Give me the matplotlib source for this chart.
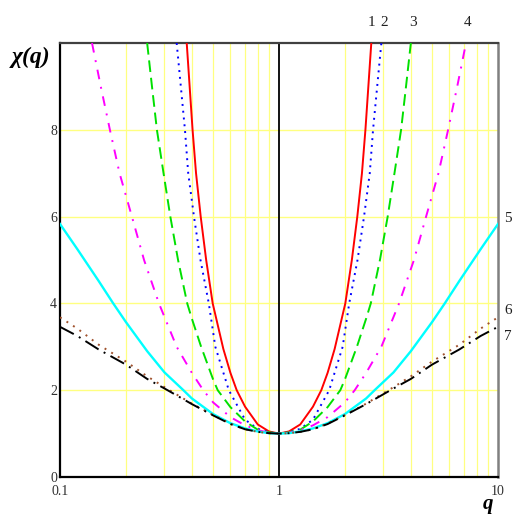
import matplotlib
matplotlib.use("Agg")
import matplotlib.pyplot as plt
from matplotlib.ticker import NullFormatter, FixedLocator

# ---- data (q, chi) ----
q1 = [0.379, 0.403, 0.418, 0.439, 0.465, 0.498, 0.557, 0.6, 0.641, 0.7, 0.8, 0.9, 1.0,
      1.111, 1.25, 1.429, 1.56, 1.667, 1.795, 2.008, 2.151, 2.278, 2.392, 2.481, 2.639]
y1 = [10, 8, 7, 6, 5, 4, 2.95, 2.4, 2, 1.62, 1.21, 1.05, 1.0,
      1.05, 1.21, 1.62, 2, 2.4, 2.95, 4, 5, 6, 7, 8, 10]

q2 = [0.341, 0.372, 0.385, 0.409, 0.438, 0.478, 0.512, 0.59, 0.7, 0.8, 0.9, 1.0,
      1.111, 1.25, 1.429, 1.695, 1.953, 2.092, 2.283, 2.445, 2.597, 2.688, 2.933]
y2 = [10, 8, 7, 6, 5, 4, 3, 2, 1.32, 1.11, 1.03, 1.0,
      1.03, 1.11, 1.32, 2, 3, 4, 5, 6, 7, 8, 10]

q3 = [0.25, 0.263, 0.277, 0.297, 0.319, 0.346, 0.381, 0.4, 0.441, 0.5, 0.525, 0.6, 0.7, 0.8, 0.9, 1.0,
      1.111, 1.25, 1.429, 1.667, 1.905, 2.0, 2.268, 2.5, 2.625, 2.89, 3.135, 3.367, 3.61, 3.802, 4.0]
y3 = [10, 9, 8, 7, 6, 5, 4, 3.65, 3, 2.25, 2, 1.61, 1.28, 1.09, 1.03, 1.0,
      1.03, 1.09, 1.28, 1.61, 2, 2.25, 3, 3.65, 4, 5, 6, 7, 8, 9, 10]

q4 = [0.14, 0.1535, 0.169, 0.187, 0.213, 0.242, 0.283, 0.341, 0.4, 0.451, 0.5, 0.6, 0.7, 0.8, 0.9, 1.0,
      1.111, 1.25, 1.429, 1.667, 2.0, 2.217, 2.5, 2.933, 3.534, 4.132, 4.695, 5.348, 5.917, 6.515, 7.143]
y4 = [10, 9, 8, 7, 6, 5, 4, 3, 2.4, 2, 1.72, 1.38, 1.19, 1.08, 1.02, 1.0,
      1.02, 1.08, 1.19, 1.38, 1.72, 2, 2.4, 3, 4, 5, 6, 7, 8, 9, 10]

q5 = [0.1, 0.12, 0.15, 0.175, 0.2, 0.25, 0.3, 0.366, 0.4, 0.5, 0.6, 0.7, 0.8, 0.9, 1.0,
      1.111, 1.25, 1.429, 1.667, 2.0, 2.5, 2.732, 3.333, 4.0, 5.0, 5.714, 6.667, 8.333, 10.0]
y5 = [5.83, 5.25, 4.52, 4.0, 3.57, 2.9, 2.41, 2.0, 1.81, 1.45, 1.24, 1.12, 1.05, 1.01, 1.0,
      1.01, 1.05, 1.12, 1.24, 1.45, 1.81, 2.0, 2.41, 2.9, 3.57, 4.0, 4.52, 5.25, 5.83]

q67 = [0.1, 0.12, 0.15, 0.2, 0.25, 0.3, 0.4, 0.5, 0.6, 0.7, 0.8, 0.9, 1.0,
       1.111, 1.25, 1.429, 1.667, 2.0, 2.5, 3.333, 4.0, 5.0, 6.667, 8.333, 10.0]
y6 = [3.68, 3.42, 3.05, 2.66, 2.32, 2.07, 1.69, 1.43, 1.23, 1.10, 1.04, 1.01, 1.0,
      1.01, 1.04, 1.10, 1.23, 1.43, 1.69, 2.07, 2.32, 2.66, 3.05, 3.42, 3.68]
y7 = [3.46, 3.25, 2.94, 2.59, 2.26, 2.04, 1.68, 1.42, 1.22, 1.10, 1.04, 1.01, 1.0,
      1.01, 1.04, 1.10, 1.22, 1.42, 1.68, 2.04, 2.26, 2.59, 2.94, 3.25, 3.46]

y_ticks = [0, 2, 4, 6, 8]
x_ticks = [0.1, 1, 10]
x_ticklabels = ["0.1", "1", "10"]
curve_labels = ["1", "2", "3", "4", "5", "6", "7"]

W, H = 513, 515
fig = plt.figure(figsize=(W / 100, H / 100), dpi=100)
ax = fig.add_axes([60 / W, 1 - 477 / H, 438 / W, 434 / H])
ax.set_xscale("log")
ax.set_xlim(0.1, 10)
ax.set_ylim(0, 10)

# grid
grid_c = "#ffff80"
minor = [m * d for d in (0.1, 1) for m in range(2, 10)]
for xv in minor:
    ax.axvline(xv, color=grid_c, lw=0.9, zorder=0)
for yv in y_ticks[1:]:
    ax.axhline(yv, color=grid_c, lw=1.0, zorder=0)
ax.axvline(1, color="black", lw=1.3, zorder=1)

lw = 1.4
ax.plot(q1, y1, color="#ff0000", lw=lw, ls="-", zorder=3)
ax.plot(q2, y2, color="#0000ff", lw=lw, ls=(0, (1, 2.5)), zorder=3)
ax.plot(q3, y3, color="#00e000", lw=lw, ls=(0, (6, 3)), zorder=3)
ax.plot(q4, y4, color="#ff00ff", lw=lw, ls=(0, (5, 4, 1, 4)), zorder=3)
ax.plot(q5, y5, color="#00ffff", lw=1.7, ls="-", zorder=3)
ax.plot(q67, y6, color="#a0522d", lw=lw, ls=(0, (1, 3)), zorder=3)
ax.plot(q67, y7, color="black", lw=lw, ls=(0, (8, 3, 1, 3)), zorder=3)

# spines
for s in ("left", "bottom"):
    ax.spines[s].set_color("black")
    ax.spines[s].set_linewidth(1.6)
ax.spines["top"].set_color("#404040")
ax.spines["top"].set_linewidth(1.6)
ax.spines["right"].set_color("#808080")
ax.spines["right"].set_linewidth(1.8)

ax.xaxis.set_major_locator(FixedLocator(x_ticks))
ax.xaxis.set_minor_formatter(NullFormatter())
ax.xaxis.set_minor_locator(FixedLocator([]))
ax.set_xticklabels(x_ticklabels)
ax.set_yticks(y_ticks)
ax.tick_params(length=0, labelsize=10, colors="#303030")
ax.tick_params(axis="x", pad=6)
ax.tick_params(axis="y", pad=2)
for t in ax.get_xticklabels() + ax.get_yticklabels():
    t.set_fontfamily("Liberation Serif")

# axis titles
fig.text(12 / W, 1 - 57 / H, "χ(q)", fontsize=17, fontweight="bold", fontstyle="italic",
         family="Liberation Serif", va="center", ha="left")
fig.text(488 / W, 1 - 509 / H, "q", fontsize=15, fontweight="bold", fontstyle="italic",
         family="Liberation Serif", va="baseline", ha="center")

# curve labels
lab_pos = [(371, 22), (384, 22), (413, 22), (468, 22), (508, 218), (508, 310), (508, 336)]
for txt, (px, py) in zip(curve_labels, lab_pos):
    fig.text(px / W, 1 - py / H, txt, fontsize=11, family="Liberation Serif",
             va="center", ha="center", color="#202020")

fig.savefig("out.png", dpi=100)
